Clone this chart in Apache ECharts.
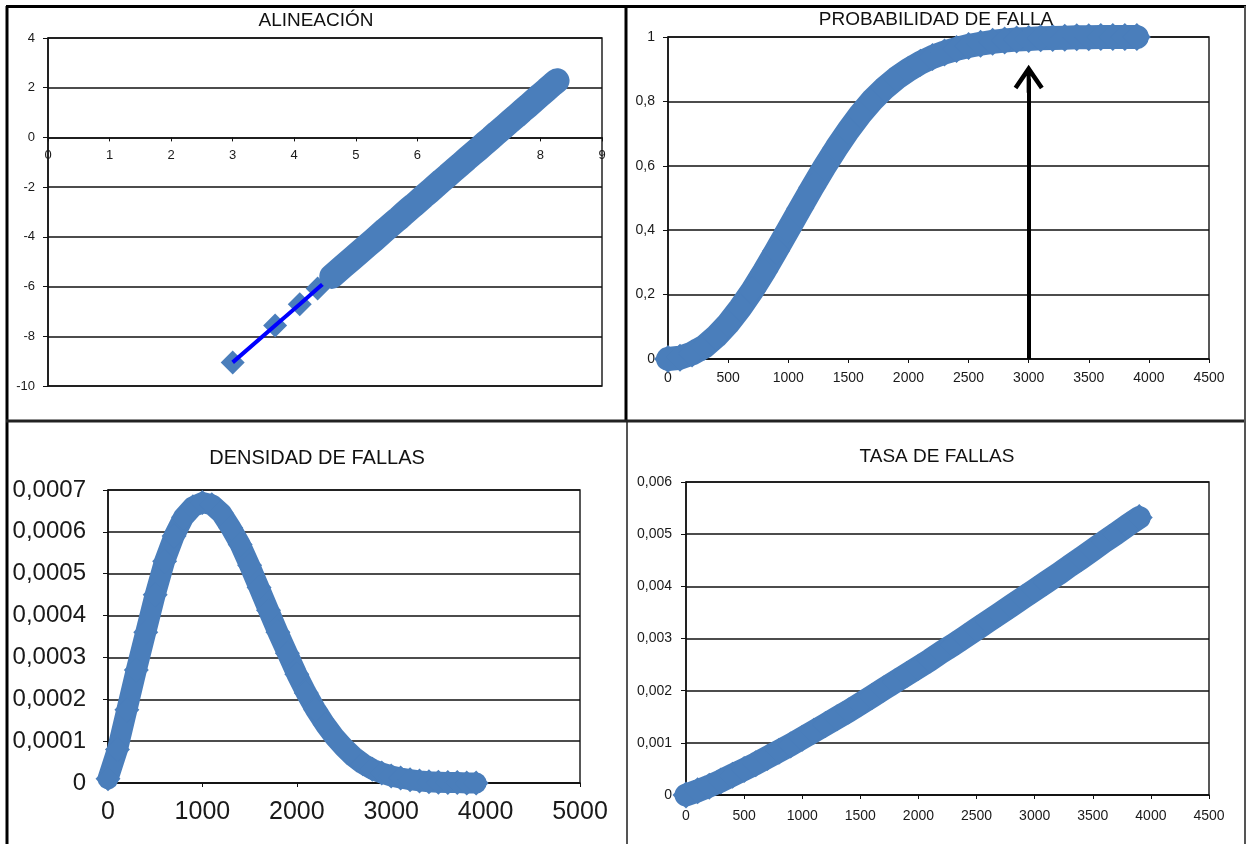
<!DOCTYPE html>
<html>
<head>
<meta charset="utf-8">
<title>Weibull - fallas</title>
<script src="https://cdn.jsdelivr.net/npm/echarts/dist/echarts.min.js"></script>
<style>
  html, body { margin: 0; padding: 0; background: #fff; }
  #main { width: 1246px; height: 844px; }
</style>
</head>
<body>
<div id="main"></div>
<script>
// datos
var times = [0, 100, 200, 300, 400, 500, 600, 700, 800, 900,
  1000, 1100, 1200, 1300, 1400, 1500, 1600, 1700, 1800, 1900,
  2000, 2100, 2200, 2300, 2400, 2500, 2600, 2700, 2800, 2900,
  3000, 3100, 3200, 3300, 3400, 3500, 3600, 3700, 3800, 3900];

// probabilidad de falla F(t)
var probFalla = [0, 0.004, 0.017, 0.038, 0.070, 0.110, 0.158, 0.212, 0.272, 0.336,
  0.402, 0.468, 0.533, 0.596, 0.655, 0.710, 0.760, 0.804, 0.841, 0.872,
  0.898, 0.920, 0.938, 0.952, 0.963, 0.972, 0.979, 0.985, 0.989, 0.992,
  0.994, 0.996, 0.997, 0.998, 0.999, 0.999, 1, 1, 1, 1];

// densidad de fallas f(t)
var densidad = [0.00001, 0.00008, 0.000175, 0.00027, 0.00036, 0.00045, 0.00053, 0.00059, 0.000635, 0.00066,
  0.00067, 0.000665, 0.000645, 0.00061, 0.00057, 0.00052, 0.000467, 0.000413, 0.00036, 0.00031,
  0.00026, 0.000215, 0.000175, 0.00014, 0.00011, 0.000085, 0.000063, 0.000046, 0.000033, 0.000024,
  0.000017, 0.000012, 0.000008, 0.000005, 0.000003, 0.000002, 0.000001, 0.000001, 0, 0];

// tasa de fallas h(t)
var tasa = [0, 0.00008, 0.00017, 0.00027, 0.00038, 0.00049, 0.0006, 0.00072, 0.00084, 0.00096,
  0.00109, 0.00122, 0.00135, 0.00148, 0.00161, 0.00175, 0.00189, 0.00203, 0.00217, 0.00231,
  0.00245, 0.00259, 0.00274, 0.00288, 0.00303, 0.00318, 0.00333, 0.00348, 0.00363, 0.00378,
  0.00393, 0.00408, 0.00423, 0.00439, 0.00454, 0.0047, 0.00486, 0.00501, 0.00517, 0.00532];

// alineacion (ln t, ln ln 1/(1-F))
var alinX = [3.00, 3.69, 4.09, 4.38, 4.61, 4.79, 4.94, 5.08, 5.19, 5.30,
  5.39, 5.48, 5.56, 5.64, 5.70, 5.77, 5.83, 5.89, 5.94, 6.00,
  6.10, 6.20, 6.30, 6.40, 6.50, 6.60, 6.70, 6.80, 6.90, 7.00,
  7.10, 7.20, 7.30, 7.40, 7.50, 7.60, 7.70, 7.80, 7.90, 8.00,
  8.10, 8.20, 8.27];
var alinY = [-9.05, -7.57, -6.71, -6.08, -5.59, -5.20, -4.88, -4.58, -4.34, -4.11,
  -3.91, -3.71, -3.54, -3.37, -3.25, -3.09, -2.96, -2.83, -2.73, -2.60,
  -2.38, -2.17, -1.95, -1.73, -1.52, -1.30, -1.09, -0.87, -0.66, -0.45,
  -0.23, -0.02, 0.20, 0.41, 0.63, 0.84, 1.06, 1.27, 1.49, 1.71,
  1.92, 2.14, 2.28];

// flecha en t = 3000
var flechaX = 3000;
var flechaTop = 0.87;

var FONT = 'Liberation Sans, Arial, sans-serif';
var MARK = '#4A7EBB';

var chart = echarts.init(document.getElementById('main'), null, { renderer: 'canvas' });

function comma(v) {
  if (v === 0) return '0';
  return String(+v.toFixed(4)).replace('.', ',');
}

function xAx(grid, min, max, step, size, margin, offset) {
  return {
    type: 'value', gridIndex: grid, min: min, max: max, interval: step,
    offset: offset || 0,
    axisLine: { show: true, onZero: false, lineStyle: { color: '#111', width: 1.5 } },
    axisTick: { show: true, inside: false, length: 4, lineStyle: { color: '#111' } },
    axisLabel: { color: '#1a1a1a', fontFamily: FONT, fontSize: size, margin: margin, formatter: comma },
    splitLine: { show: false }
  };
}

function yAx(grid, min, max, step, size, margin) {
  return {
    type: 'value', gridIndex: grid, min: min, max: max, interval: step,
    axisLine: { show: true, lineStyle: { color: '#111', width: 1.5 } },
    axisTick: { show: true, inside: false, length: 5, lineStyle: { color: '#111' } },
    axisLabel: { color: '#1a1a1a', fontFamily: FONT, fontSize: size, margin: margin, formatter: comma },
    splitLine: { show: true, lineStyle: { color: '#111', width: 1.5 } }
  };
}

function band(grid, ys, w) {
  return {
    type: 'line', xAxisIndex: grid, yAxisIndex: grid,
    data: times.map(function (t, i) { return [t, ys[i]]; }),
    symbol: 'diamond', symbolSize: w + 4, clip: false,
    itemStyle: { color: MARK },
    lineStyle: { color: MARK, width: w, join: 'round', cap: 'round' },
    emphasis: { disabled: true }
  };
}

function titulo(text, x, y, size) {
  return {
    type: 'text', x: x, y: y, z: 10,
    style: { text: text, fill: '#111', font: size + 'px ' + FONT, align: 'center', verticalAlign: 'middle' }
  };
}

function linea(x1, y1, x2, y2, w, c) {
  return { type: 'line', z: 20, shape: { x1: x1, y1: y1, x2: x2, y2: y2 }, style: { stroke: c, lineWidth: w } };
}

var frame = { show: true, borderColor: '#222', borderWidth: 1.5, backgroundColor: 'transparent' };

var alinPts = alinX.map(function (x, i) { return [x, alinY[i]]; });

var option = {
  animation: false,
  backgroundColor: '#fff',
  grid: [
    Object.assign({ left: 48, top: 38, width: 554, height: 348 }, frame),
    Object.assign({ left: 668, top: 37, width: 541, height: 322 }, frame),
    Object.assign({ left: 108, top: 490, width: 472, height: 293 }, frame),
    Object.assign({ left: 686, top: 482, width: 523, height: 313 }, frame)
  ],
  xAxis: [
    // el eje x de la alineacion cruza en y = 0 (348 * 10/14 px sobre el borde inferior)
    xAx(0, 0, 9, 1, 13, 12, -248.6),
    xAx(1, 0, 4500, 500, 14, 12),
    xAx(2, 0, 5000, 1000, 25, 17),
    xAx(3, 0, 4500, 500, 14, 14)
  ],
  yAxis: [
    yAx(0, -10, 4, 2, 13, 13),
    yAx(1, 0, 1, 0.2, 14, 13),
    yAx(2, 0, 0.0007, 0.0001, 24, 22),
    yAx(3, 0, 0.006, 0.001, 14, 14)
  ],
  series: [
    {
      // linea azul entre los primeros puntos
      type: 'line', xAxisIndex: 0, yAxisIndex: 0,
      data: alinPts.slice(0, 6),
      symbol: 'none', clip: false,
      lineStyle: { color: '#0000FF', width: 4 },
      emphasis: { disabled: true }
    },
    {
      // tramo denso de puntos superpuestos
      type: 'line', xAxisIndex: 0, yAxisIndex: 0,
      data: alinPts.slice(4),
      symbol: 'none', clip: false,
      lineStyle: { color: MARK, width: 25, cap: 'round', join: 'round' },
      emphasis: { disabled: true }
    },
    {
      type: 'scatter', xAxisIndex: 0, yAxisIndex: 0,
      data: alinPts,
      symbol: 'diamond', symbolSize: 24, clip: false,
      itemStyle: { color: MARK, opacity: 1 },
      emphasis: { disabled: true }
    },
    Object.assign(band(1, probFalla, 24), {
      markLine: {
        silent: true,
        symbol: ['none', 'path://M15,0 L30,22 L26.3,24.5 L17,10.9 L17,28 L13,28 L13,10.9 L3.7,24.5 L0,22 Z'],
        symbolSize: [30, 28],
        label: { show: false },
        lineStyle: { color: '#000', width: 4, type: 'solid' },
        data: [[{ coord: [flechaX, 0] }, { coord: [flechaX, flechaTop] }]]
      }
    }),
    band(2, densidad, 21),
    band(3, tasa, 23)
  ],
  graphic: [
    titulo('ALINEACIÓN', 316, 21, 19),
    titulo('PROBABILIDAD DE FALLA', 936, 20, 19),
    titulo('DENSIDAD DE FALLAS', 317, 458, 20),
    titulo('TASA DE FALLAS', 937, 457, 19),
    linea(6, 6.5, 1246, 6.5, 3, '#000'),
    linea(7, 6, 7, 844, 3, '#000'),
    linea(626, 6, 626, 421, 3, '#000'),
    linea(627, 421, 627, 844, 2, '#555'),
    linea(6, 421, 1246, 421, 3, '#222'),
    linea(1245, 6, 1245, 844, 2, '#555')
  ]
};

chart.setOption(option);
</script>
</body>
</html>
